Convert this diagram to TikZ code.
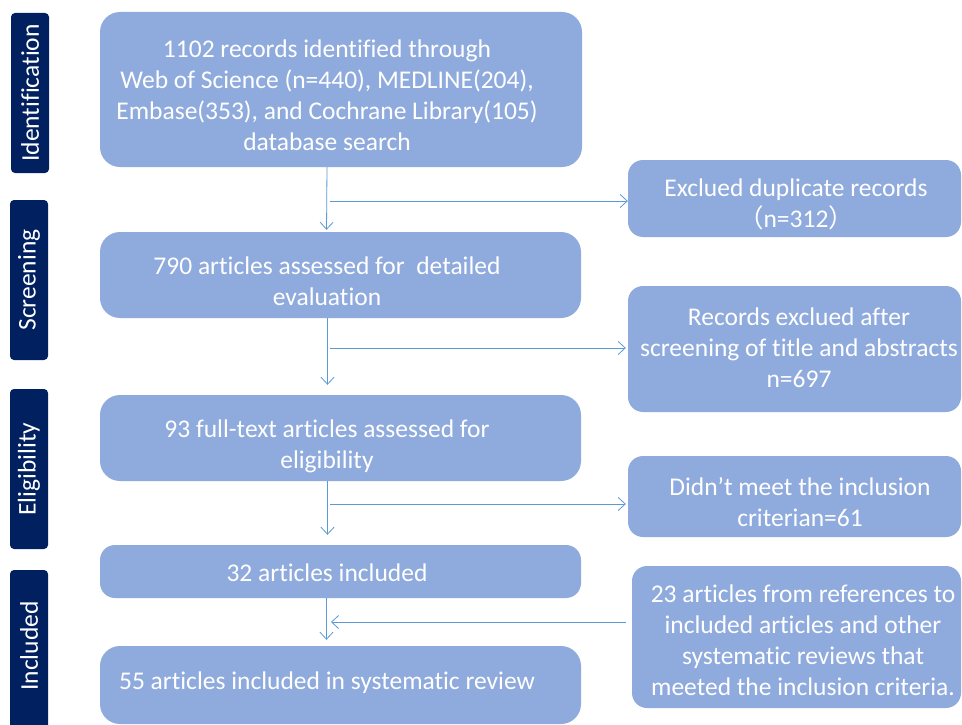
\documentclass[tikz,border=0pt]{standalone}
\usepackage{fontspec}
\setmainfont{Carlito}[Ligatures=NoCommon]
\newfontfamily\cjkfont{Noto Sans CJK SC}
\usetikzlibrary{arrows.meta}
\definecolor{boxblue}{HTML}{8FAADC}
\definecolor{navy}{HTML}{002060}
\definecolor{arrowblue}{HTML}{5B9BD5}
\begin{document}
\begin{tikzpicture}[x=1pt,y=-1pt,
  mainbox/.style={draw=none,fill=boxblue,rounded corners=20pt,minimum width=481pt,inner sep=0pt},
  sidebox/.style={draw=none,fill=boxblue,rounded corners=15pt,inner sep=0pt},
  stagebox/.style={fill=navy,rounded corners=4pt,minimum width=38pt,minimum height=160pt,inner sep=0pt},
  stagetext/.style={text=white,rotate=90,font=\fontsize{25.5}{31}\selectfont},
  boxtext/.style={text=white,align=center,inner sep=0pt,font=\fontsize{25.5}{31}\selectfont},
  arr/.style={draw=arrowblue,line width=0.8pt,-{Straight Barb[length=7pt,width=13pt,line width=0.8pt]}}
]
\useasboundingbox[fill=white] (0,0) rectangle (962,725);

% stage labels
\node[stagebox] (sI) at (30,93) {};
\node[stagetext] (tI) at (sI.center) {Identification};
\node[stagebox] (sS) at (29,280) {};
\node[stagetext] (tS) at (sS.center) {Screening};
\node[stagebox] (sE) at (29,469) {};
\node[stagetext] (tE) at (sE.center) {Eligibility};
\node[stagebox] (sN) at (29,650) {};
\node[stagetext] (tN) at (29,646) {Included};

% main boxes
\node[mainbox,minimum width=482pt,minimum height=155pt] (b1) at (341,89.5) {};
\node[boxtext] (t1) at (327,95) {1102 records identified through\\Web of Science (n=440), MEDLINE(204),\\Embase(353), and Cochrane Library(105)\\database search};
\node[mainbox,minimum height=86pt] (b2) at (340.5,275) {};
\node[boxtext] (t2) at (327,281) {790 articles assessed for\ \ detailed\\evaluation};
\node[mainbox,minimum height=86pt] (b3) at (340.5,438) {};
\node[boxtext] (t3) at (327,446) {93 full-text articles assessed for\\eligibility};
\node[mainbox,minimum height=53pt,rounded corners=15pt] (b4) at (340.5,571.5) {};
\node[boxtext] (t4) at (327,573) {32 articles included};
\node[mainbox,minimum height=78pt] (b5) at (340.5,685) {};
\node[boxtext] (t5) at (327,683) {55 articles included in systematic review};

% side boxes
\node[sidebox,minimum width=333pt,minimum height=77pt] (r1) at (794.5,198.5) {};
\node[boxtext] (u1) at (796,204) {Exclued duplicate records\\{\cjkfont （}n=312{\cjkfont ）}};
\node[sidebox,minimum width=333pt,minimum height=126pt] (r2) at (794.5,349) {};
\node[boxtext] (u2) at (799,348) {Records exclued after\\screening of title and abstracts\\n=697};
\node[sidebox,minimum width=333pt,minimum height=81pt] (r3) at (794.5,496.5) {};
\node[boxtext] (u3) at (800,502) {Didn’t meet the inclusion\\criterian=61};
\node[sidebox,minimum width=329pt,minimum height=142pt] (r4) at (796.5,637) {};
\node[boxtext] (u4) at (803,640) {23 articles from references to\\included articles and other\\systematic reviews that\\meeted the inclusion criteria.};

% connectors
\draw[arr,shorten >=2pt] ([xshift=-14pt]b1.south) -- ([xshift=-14pt]b2.north);
\coordinate (j1) at (330,201);
\draw[arr] (j1) -- (j1 -| r1.west);

\draw[arr,shorten >=10pt] ([xshift=-13pt]b2.south) -- ([xshift=-13pt]b3.north);
\coordinate (j2) at (330,348);
\draw[arr,shorten >=2pt] (j2) -- (j2 -| r2.west);

\draw[arr,shorten >=10pt] ([xshift=-13pt]b3.south) -- ([xshift=-13pt]b4.north);
\coordinate (j3) at (330,504);
\draw[arr,shorten >=2pt] (j3) -- (j3 -| r3.west);

\draw[arr,shorten >=6pt] ([xshift=-14pt]b4.south) -- ([xshift=-14pt]b5.north);
\coordinate (j4) at (331,622);
\draw[arr,shorten <=6pt] (j4 -| r4.west) -- (j4);
\end{tikzpicture}
\end{document}
